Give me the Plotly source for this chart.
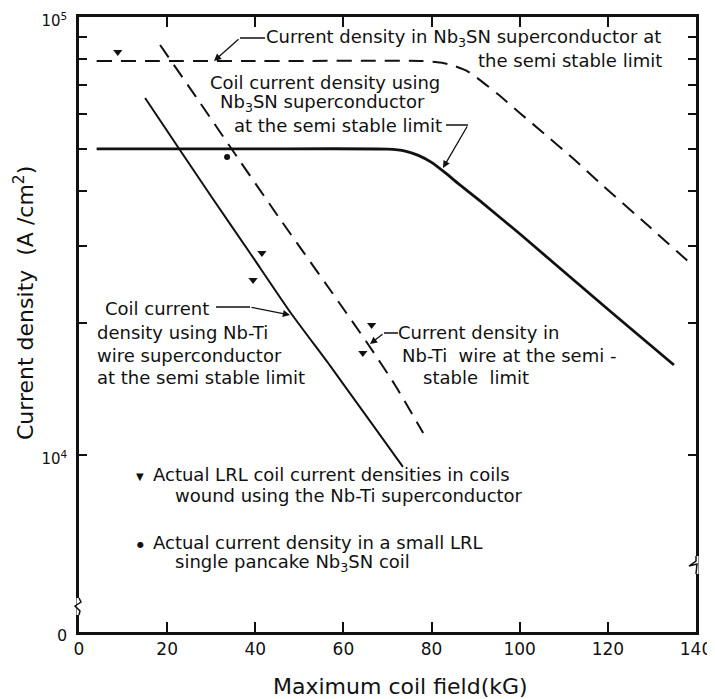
import plotly.graph_objects as go

# ---------------- data ----------------
field_nb3sn_wire = [4, 40, 78, 82, 85, 88, 91, 95, 100, 106, 112, 119, 129, 139]
jd_nb3sn_wire = [79330, 79330, 79330, 78700, 77450, 75340, 71780, 66680, 60390, 53700, 47640, 41110, 33500, 27230]

field_nb3sn_coil = [4, 40, 70, 74, 77, 80, 83, 86, 91, 100, 108, 121, 135]
jd_nb3sn_coil = [50000, 50000, 49940, 49430, 48310, 46560, 44160, 41690, 38020, 31990, 27290, 21090, 16050]

field_nbti_wire = [18.4, 27.5, 36.5, 45.6, 57.0, 65.4, 71.7, 78.1]
jd_nbti_wire = [86300, 63630, 46920, 34580, 23810, 18020, 14450, 11220]

field_nbti_coil = [15.0, 22.9, 30.4, 38.8, 47.9, 57.0, 66.0, 73.5]
jd_nbti_coil = [65340, 49700, 38420, 28920, 21210, 15970, 11960, 9390]

field_lrl_nbti = [8.8, 41.5, 39.5, 66.4, 64.4]
jd_lrl_nbti = [83200, 28900, 25100, 19800, 17100]

field_lrl_nb3sn = [33.6]
jd_lrl_nb3sn = [47900]

x_ticks = [0, 20, 40, 60, 80, 100, 120, 140]
y_bottom_log = 3.5959
y_ticks = [10 ** y_bottom_log, 1e4, 2e4, 3e4, 4e4, 5e4, 6e4, 7e4, 8e4, 9e4, 1e5]
y_ticktext = ["<span style='font-size:16px'>0</span>", "10<sup>4</sup>", "", "", "", "", "", "", "", "",
              "10<sup>5</sup>"]

# ---------------- layout geometry ----------------
# the page body has an 8px margin, so the figure starts at (8, 8) in the window
OFF = 8
WIN_W, WIN_H = 715, 699
PL, PR, PT, PB = 79, 696, 17, 632          # plot area in window pixels
W, H = WIN_W - OFF, WIN_H - OFF
L, T = PL - OFF, PT - OFF
R, B = WIN_W - PR, WIN_H - PB
PW, PH = PR - PL, PB - PT


def px(x):
    return (x - PL) / PW


def py(y):
    return (PB - y) / PH


FONT = "DejaVu Sans"
BLACK = "#111111"
FS = 18

fig = go.Figure()

fig.add_trace(go.Scatter(x=field_nb3sn_wire, y=jd_nb3sn_wire, mode="lines",
                         line=dict(color=BLACK, width=2, dash="15px,9px", shape="spline", smoothing=0.5),
                         showlegend=False))
fig.add_trace(go.Scatter(x=field_nb3sn_coil, y=jd_nb3sn_coil, mode="lines",
                         line=dict(color=BLACK, width=2.8, shape="spline", smoothing=0.5),
                         showlegend=False))
fig.add_trace(go.Scatter(x=field_nbti_wire, y=jd_nbti_wire, mode="lines",
                         line=dict(color=BLACK, width=2, dash="15px,9px", shape="spline", smoothing=0.5),
                         showlegend=False))
fig.add_trace(go.Scatter(x=field_nbti_coil, y=jd_nbti_coil, mode="lines",
                         line=dict(color=BLACK, width=2, shape="spline", smoothing=0.5),
                         showlegend=False))
fig.add_trace(go.Scatter(x=field_lrl_nbti, y=jd_lrl_nbti, mode="markers",
                         marker=dict(symbol="triangle-down", size=8, color=BLACK),
                         showlegend=False))
fig.add_trace(go.Scatter(x=field_lrl_nb3sn, y=jd_lrl_nb3sn, mode="markers",
                         marker=dict(symbol="circle", size=6, color=BLACK),
                         showlegend=False))

annotations = []
shapes = []


def text(x, y, s, size=FS, anchor="left"):
    annotations.append(dict(x=px(x), y=py(y), xref="paper", yref="paper", text=s,
                            showarrow=False, xanchor=anchor, yanchor="middle",
                            font=dict(family=FONT, size=size, color=BLACK)))


def seg(x0, y0, x1, y1, w=1.5, color=BLACK):
    shapes.append(dict(type="line", xref="paper", yref="paper", layer="above",
                       x0=px(x0), y0=py(y0), x1=px(x1), y1=py(y1),
                       line=dict(color=color, width=w)))


def arrow(xh, yh, xt, yt):
    annotations.append(dict(x=px(xh), y=py(yh), xref="paper", yref="paper", text="",
                            showarrow=True, ax=xt - xh, ay=yt - yh, arrowhead=2,
                            arrowsize=1.1, arrowwidth=1.3, arrowcolor=BLACK))


# Nb3Sn wire label
text(264, 38, "Current density in Nb<sub>3</sub>SN superconductor at")
text(476, 60, "the semi stable limit")
seg(240, 38, 265, 38)
arrow(214, 61, 240, 38)

# Nb3Sn coil label
text(208, 82, "Coil current density using")
text(218, 103, "Nb<sub>3</sub>SN superconductor")
text(232, 125, "at the semi stable limit")
seg(446, 125, 468, 125)
arrow(443, 168, 468, 125)

# Nb-Ti coil label
text(103, 308, "Coil current")
text(95, 332, "density using Nb-Ti")
text(95, 355, "wire superconductor")
text(95, 378, "at the semi stable limit")
seg(216, 307, 250, 307)
arrow(290, 315, 250, 307)

# Nb-Ti wire label
text(396, 332, "Current density in")
text(400, 355, "Nb-Ti  wire at the semi -")
text(421, 377, "stable  limit")
seg(384, 333, 398, 333)
arrow(370, 344, 384, 333)

# legend block
text(140, 476, "▼", size=10, anchor="center")
text(151, 475, "Actual LRL coil current densities in coils")
text(173, 496, "wound using the Nb-Ti superconductor")
text(140, 544, "●", size=8, anchor="center")
text(151, 542, "Actual current density in a small LRL")
text(173, 563, "single pancake Nb<sub>3</sub>SN coil")

# axis titles
annotations.append(dict(x=px(400), y=py(686), xref="paper", yref="paper",
                        text="Maximum coil field(kG)", showarrow=False,
                        xanchor="center", yanchor="middle",
                        font=dict(family=FONT, size=22, color=BLACK)))
annotations.append(dict(x=px(24), y=py(303), xref="paper", yref="paper",
                        text="Current density  (A /cm<sup>2</sup>)", showarrow=False,
                        textangle=-90, xanchor="center", yanchor="middle",
                        font=dict(family=FONT, size=22, color=BLACK)))

# axis break marks
seg(79, 598, 79, 615, w=5, color="white")
shapes.append(dict(type="path", xref="paper", yref="paper", layer="above",
                   path="M{},{} L{},{} L{},{} L{},{} L{},{}".format(
                       px(79), py(598), px(81), py(602), px(75), py(606),
                       px(80), py(611), px(79), py(615)),
                   line=dict(color=BLACK, width=1.5)))
seg(696, 556, 696, 574, w=5, color="white")
shapes.append(dict(type="path", xref="paper", yref="paper", layer="above",
                   path="M{},{} L{},{} L{},{} L{},{} L{},{}".format(
                       px(696), py(556), px(696), py(561), px(689), py(566),
                       px(697), py(564), px(696), py(574)),
                   line=dict(color=BLACK, width=1.5)))

fig.update_layout(
    width=W, height=H,
    margin=dict(l=L, r=R, t=T, b=B, pad=0, autoexpand=False),
    paper_bgcolor="white", plot_bgcolor="white",
    annotations=annotations, shapes=shapes,
    font=dict(family=FONT, color=BLACK),
)
fig.update_xaxes(range=[0, 140], tickvals=x_ticks, ticks="inside", ticklen=10, tickwidth=1.5,
                 tickcolor=BLACK, showline=True, linecolor=BLACK, linewidth=2.5, mirror="ticks",
                 showgrid=False, zeroline=False, automargin=False, ticklabeloverflow="allow",
                 tickfont=dict(family=FONT, size=17, color=BLACK))
fig.update_yaxes(type="log", range=[y_bottom_log - 0.0001, 5], tickvals=y_ticks, ticktext=y_ticktext,
                 ticks="inside", ticklen=8, tickwidth=1.5, tickcolor=BLACK, showline=True,
                 linecolor=BLACK, linewidth=2.5, mirror="ticks", showgrid=False, zeroline=False,
                 automargin=False, ticklabeloverflow="allow", ticklabelstandoff=6, ticklabelshift=4,
                 tickfont=dict(family=FONT, size=15, color=BLACK))

fig.write_html("out.html")
